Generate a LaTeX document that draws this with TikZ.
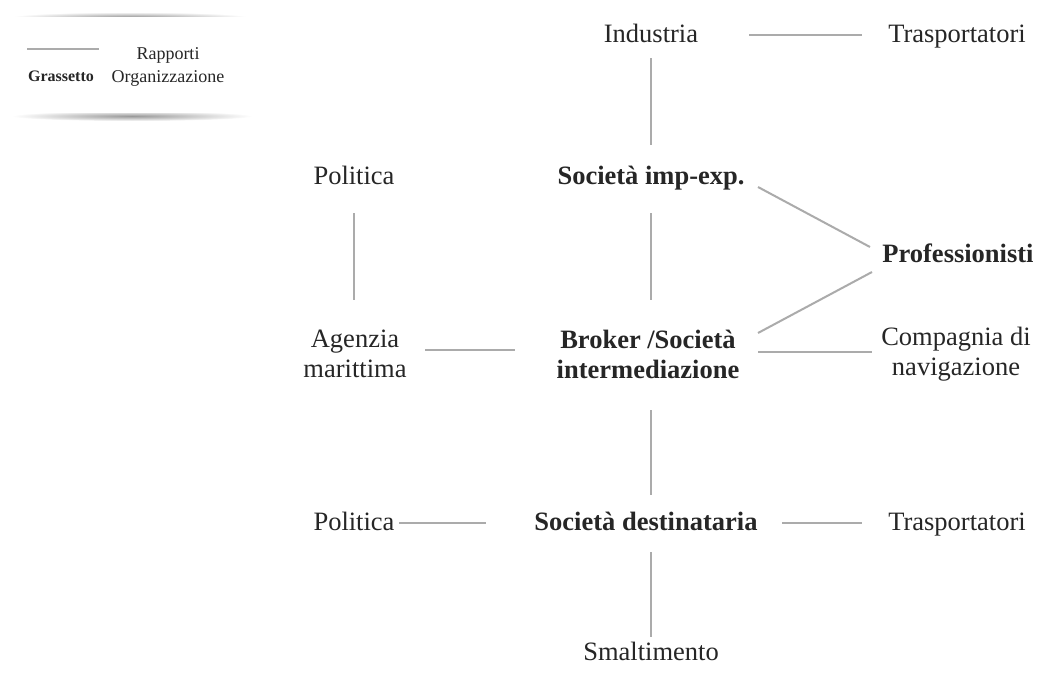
\documentclass[tikz,border=0pt]{standalone}
\usepackage{fontspec}
\setmainfont{Liberation Serif}
\usetikzlibrary{calc}
\definecolor{txt}{HTML}{262626}
\definecolor{lnk}{HTML}{ABABAB}
\tikzset{
  lab/.style={inner sep=0pt, text height=18pt, text depth=6pt, text=txt, font=\fontsize{26.5}{30}\selectfont},
  labb/.style={lab, font=\fontsize{26.5}{30}\selectfont\bfseries},
  lab2/.style={inner sep=0pt, align=center, text=txt, font=\fontsize{26.5}{30}\selectfont},
  lab2b/.style={lab2, font=\fontsize{26.5}{30}\selectfont\bfseries},
  link/.style={draw=lnk, line width=2pt},
  leg/.style={inner sep=0pt, anchor=base, text=txt, font=\fontsize{18}{20}\selectfont},
}
\begin{document}
\begin{tikzpicture}[x=1pt,y=-1pt]
\useasboundingbox (0,0) rectangle (1037,681);
\fill[white] (0,0) rectangle (1037,681);
% legend
\shade[inner color=black!40, outer color=white] (130,17) ellipse [x radius=118pt, y radius=5pt];
\shade[inner color=black!40, outer color=white] (132,116) ellipse [x radius=120pt, y radius=5pt];
\fill[white] (10,17) rectangle (250,113);
\draw[draw=lnk, line width=1.3pt] (27,49) -- (99,49);
\node[leg] (lr) at (168,59) {Rapporti};
\node[leg] (lo) at (168,82) {Organizzazione};
\node[leg, font=\fontsize{16}{18}\selectfont\bfseries] (lg) at (61,81) {Grassetto};
% nodes
\node[lab]  (ind)  at (651,36)  {Industria};
\node[lab]  (tr1)  at (957,36)  {Trasportatori};
\node[labb] (soc)  at (651,178) {Società imp-exp.};
\node[lab]  (pol1) at (354,178) {Politica};
\node[labb] (prof) at (958,256) {Professionisti};
\node[lab2] (ag)   at (355,354) {Agenzia\\marittima};
\node[lab2b] (brk) at (648,354) {Broker /Società\\intermediazione};
\node[lab2] (comp) at (956,354) {Compagnia di\\navigazione};
\node[lab]  (pol2) at (354,524) {Politica};
\node[labb] (dest) at (646,524) {Società destinataria};
\node[lab]  (tr2)  at (957,524) {Trasportatori};
\node[lab]  (sma)  at (651,654) {Smaltimento};
% connectors
\draw[link] ($(ind)+(98,-1)$) -- ($(tr1)+(-95,-1)$);
\draw[link] ($(ind)+(0,22)$) -- ($(soc)+(0,-33)$);
\draw[link] ($(soc)+(0,35)$) -- ($(brk)+(3,-54)$);
\draw[link] ($(pol1)+(0,35)$) -- ($(ag)+(-1,-54)$);
\draw[link] ($(soc)+(107,9)$) -- ($(prof)+(-88,-9)$);
\draw[link] ($(brk)+(110,-21)$) -- ($(prof)+(-86,16)$);
\draw[link] ($(ag)+(70,-4)$) -- ($(brk)+(-133,-4)$);
\draw[link] ($(brk)+(110,-2)$) -- ($(comp)+(-84,-2)$);
\draw[link] ($(brk)+(3,56)$) -- ($(dest)+(5,-29)$);
\draw[link] ($(pol2)+(45,-1)$) -- ($(dest)+(-160,-1)$);
\draw[link] ($(dest)+(136,-1)$) -- ($(tr2)+(-95,-1)$);
\draw[link] ($(dest)+(5,28)$) -- ($(sma)+(0,-17)$);
\end{tikzpicture}
\end{document}
